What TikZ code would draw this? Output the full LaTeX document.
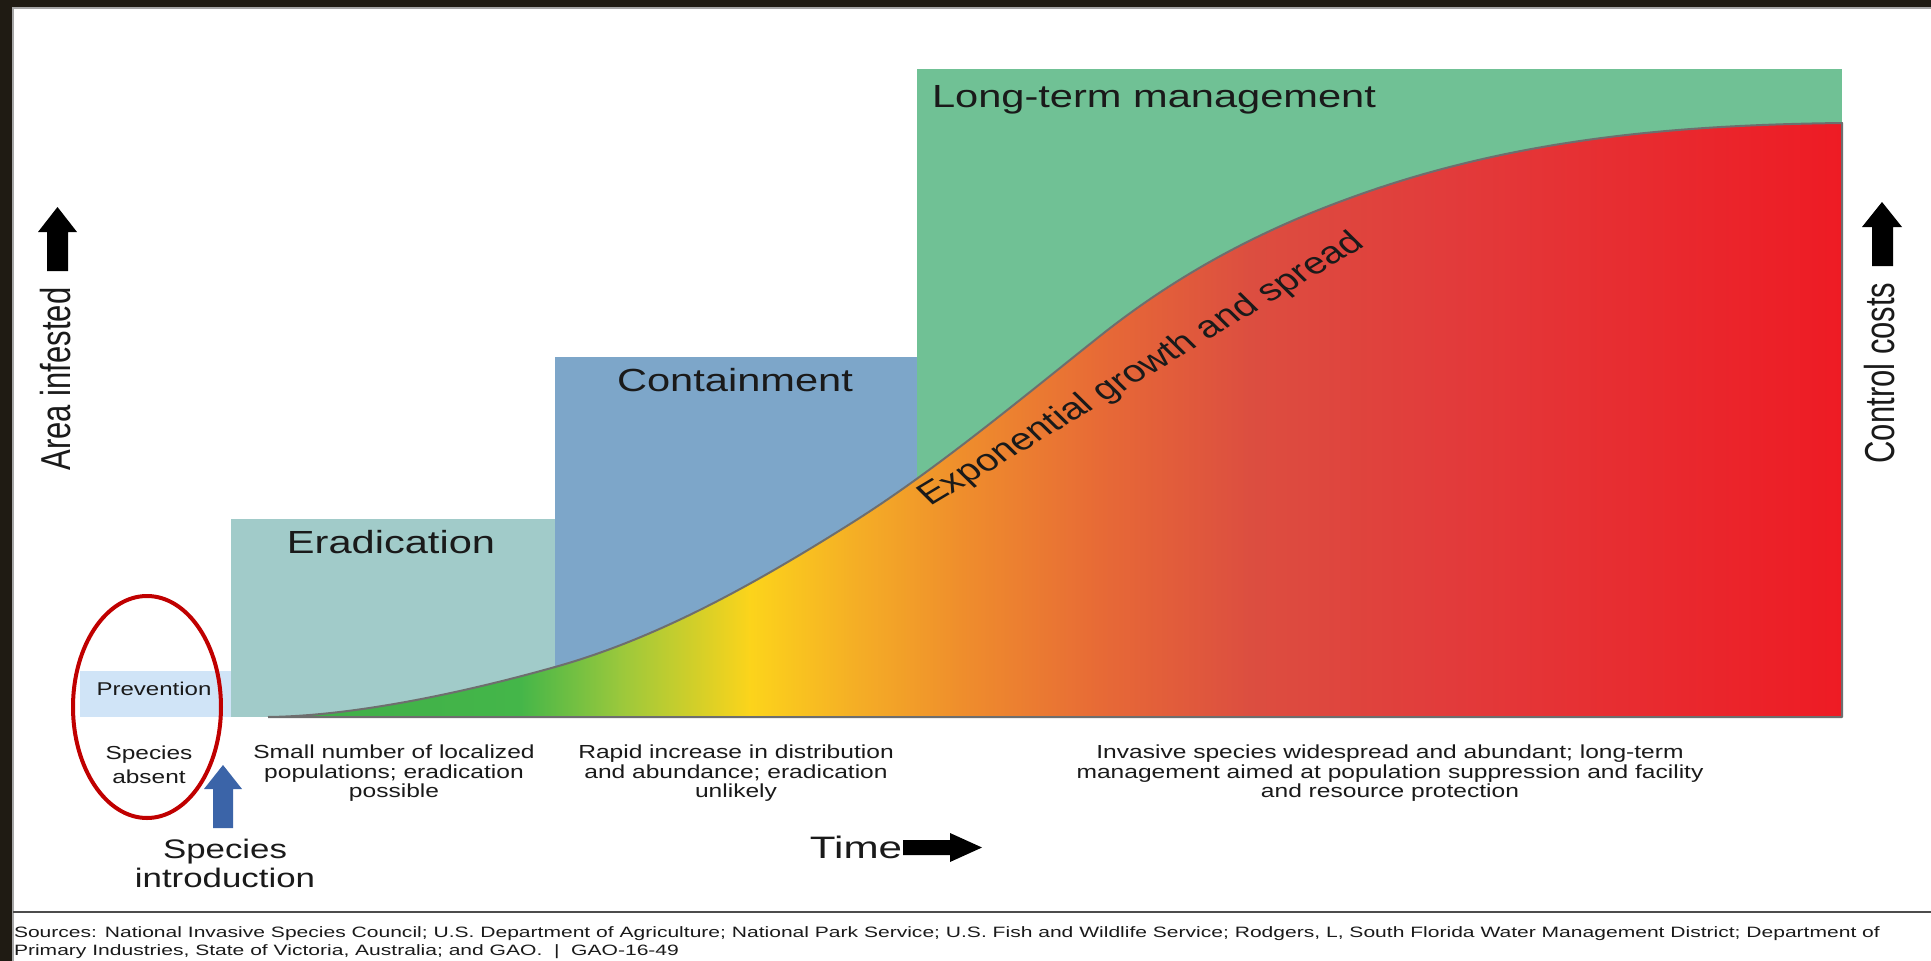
\documentclass[tikz,border=0pt]{standalone}
\usepackage{fontspec}
\setmainfont{Liberation Sans}
\usepackage{graphicx}
\definecolor{framec}{HTML}{1F1B13}
\definecolor{prevc}{RGB}{208,228,247}
\definecolor{eradc}{RGB}{161,203,201}
\definecolor{contc}{RGB}{125,166,201}
\definecolor{longc}{RGB}{112,193,149}
\definecolor{ringc}{RGB}{192,0,0}
\definecolor{bluearr}{RGB}{59,100,168}
\definecolor{outlc}{HTML}{6E6E6E}
\definecolor{txtc}{HTML}{1A1A1A}
\definecolor{g0}{HTML}{3FAE49}
\definecolor{g1}{HTML}{44B649}
\definecolor{g2}{HTML}{9AC83C}
\definecolor{g3}{HTML}{FCD41B}
\definecolor{g4}{HTML}{F5B025}
\definecolor{g5}{HTML}{EF8E2C}
\definecolor{g6}{HTML}{E76A36}
\definecolor{g7}{HTML}{DC4E40}
\definecolor{g8}{HTML}{E23B3B}
\definecolor{g9}{HTML}{EE1B24}
\newcommand\hs[2][1.3]{\scalebox{#1}[1]{#2}}
\newcommand\fs[2]{\fontsize{#1}{#2}\selectfont}
\newcommand\stk[1]{\begin{tabular}{@{}c@{}}#1\end{tabular}}
\newcommand\srcone{Sources: National Invasive Species Council; U.S. Department of Agriculture; National Park Service; U.S. Fish and Wildlife Service; Rodgers, L, South Florida Water Management District; Department of}
\newcommand\growthcurve{(268,717) .. controls (350,716) and (455,695) .. (555,667) .. controls (655,639) and (750,587) .. (850,524) .. controls (933,472) and (1017,402) .. (1100,336) .. controls (1183,270) and (1267,228) .. (1350,198) .. controls (1514,138) and (1678,125) .. (1842,123)}
\newlength\srcw
\begin{document}
\settowidth{\srcw}{\fs{15}{17}\srcone}
\pgfmathsetmacro\srcfac{1866/\srcw}
\begin{tikzpicture}[x=1pt,y=-1pt,
  txt/.style={inner sep=0pt, outer sep=0pt, text=txtc},
  outl/.style={draw=outlc, line width=2pt, line join=round}]
\useasboundingbox (0,0) rectangle (1931,961);
\fill[white] (0,0) rectangle (1931,961);
% frame
\fill[framec] (0,0) rectangle (12,961);
\fill[framec] (0,0) rectangle (1931,7);
\draw[black!35, line width=1.5pt] (13,961) -- (13,8) -- (1931,8);
% boxes
\fill[prevc] (80,671) rectangle (231,717);
\fill[eradc] (231,519) rectangle (555,717);
\fill[contc] (555,357) rectangle (917,717);
\fill[longc] (917,69) rectangle (1842,717);
% growth curve fill
\begin{scope}
\clip \growthcurve -- (1842,717) -- cycle;
\foreach \xa/\xb/\ca/\cb in {268/520/g0/g1, 520/620/g1/g2, 620/750/g2/g3, 750/850/g3/g4, 850/960/g4/g5, 960/1100/g5/g6, 1100/1250/g6/g7, 1250/1450/g7/g8, 1450/1842/g8/g9}
  \shade[left color=\ca, right color=\cb] (\xa-0.6,100) rectangle (\xb+0.6,720);
\end{scope}
\draw[outl] \growthcurve -- (1842,717) -- (268,717);
% stage labels
\node[txt, anchor=base] (prev) at (154,695) {\fs{18.5}{22}\hs{Prevention}};
\node[txt, anchor=base] (erad) at (391,553) {\fs{32}{38}\hs{Eradication}};
\node[txt, anchor=base] (cont) at (735,391) {\fs{32}{38}\hs{Containment}};
\node[txt, anchor=base west] (long) at (932,107) {\fs{32}{38}\hs{Long-term management}};
\node[txt] (expo) at (1142,370) {\hs{\rotatebox{38}{\fs{30.8}{36}Exponential growth and spread}}};
% descriptions
\node[txt] (absent) at (149,767) {\fs{18.8}{24}\hs{\stk{Species\\absent}}};
\node[txt] (d1) at (394,774) {\fs{18.9}{18.8}\hs{\stk{Small number of localized\\populations; eradication\\possible}}};
\node[txt] (d2) at (736,774) {\fs{18.9}{18.8}\hs{\stk{Rapid increase in distribution\\and abundance; eradication\\unlikely}}};
\node[txt] (d3) at (1390,774) {\fs{18.9}{18.8}\hs{\stk{Invasive species widespread and abundant; long-term\\management aimed at population suppression and facility\\and resource protection}}};
% ring
\draw[ringc, line width=4pt] (147,707) ellipse [x radius=74pt, y radius=111pt];
% species introduction arrow
\fill[bluearr] (213,828) -- (213,789) -- (204,789) -- (223,765) -- (242,789) -- (233,789) -- (233,828) -- cycle;
\node[txt] (intro) at (225,867) {\fs{26.8}{29}\hs{\stk{Species\\introduction}}};
% axes labels
\fill[black] (47,271) -- (47,232) -- (38,232) -- (57.5,207) -- (77,232) -- (68,232) -- (68,271) -- cycle;
\node[txt] (area) at (56,379) {\hs[1.35]{\rotatebox{90}{\fs{31}{36}Area infested}}};
\fill[black] (1872,266) -- (1872,227) -- (1862,227) -- (1882,202) -- (1902,227) -- (1893,227) -- (1893,266) -- cycle;
\node[txt] (cost) at (1880,373) {\hs[1.35]{\rotatebox{90}{\fs{31}{36}Control costs}}};
\node[txt, anchor=base] (time) at (856,858) {\fs{31}{36}\hs[1.36]{Time}};
\fill[black] (903,840) -- (950,840) -- (950,833) -- (982,847.5) -- (950,862) -- (950,855) -- (903,855) -- cycle;
% separator and sources
\draw[black!70, line width=2.5pt] (13,912) -- (1931,912);
\node[txt, anchor=base west] (src1) at (14,937.5) {\scalebox{\srcfac}[1]{\fs{15}{17}\srcone}};
\node[txt, anchor=base west] (src2) at (14,955) {\scalebox{\srcfac}[1]{\fs{15}{17}Primary Industries, State of Victoria, Australia; and GAO.~~|~~GAO-16-49}};
\end{tikzpicture}
\end{document}
